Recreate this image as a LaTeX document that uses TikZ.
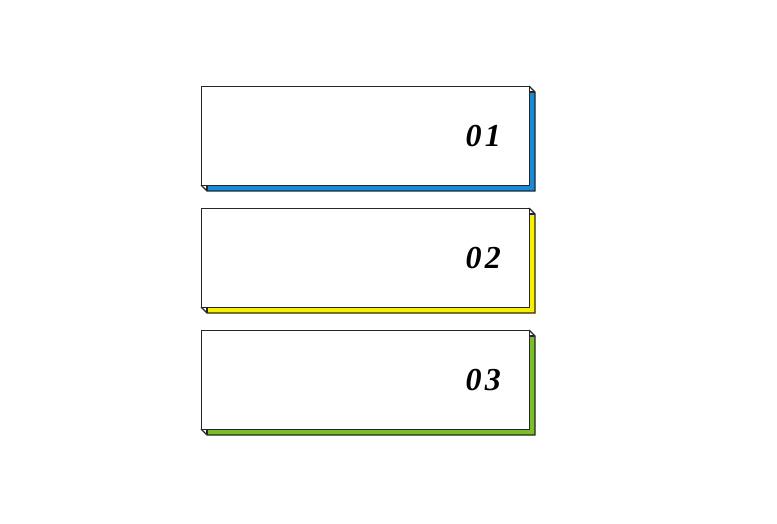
\documentclass[tikz,border=0pt]{standalone}
\usepackage{fontspec}
\setmainfont{Liberation Serif}
\definecolor{cblue}{HTML}{1A8AD4}
\definecolor{cyellow}{HTML}{F7F000}
\definecolor{cgreen}{HTML}{7CBD2E}
\begin{document}
\begin{tikzpicture}[x=1pt,y=-1pt,
  front/.style={draw=black!85,line width=1.3pt,fill=white,minimum width=328pt,minimum height=99pt,inner sep=0pt,anchor=north west},
  side/.style={draw=black!85,line width=1.3pt,line join=miter},
  num/.style={font=\fontsize{32}{32}\selectfont\bfseries\itshape\addfontfeature{LetterSpace=10},text=black}]
\useasboundingbox (0,0) rectangle (777,524);
\fill[white] (0,0) rectangle (777,524);
\foreach \i/\y/\c/\t in {1/86/cblue/01, 2/208/cyellow/02, 3/330/cgreen/03}{
  \fill[\c] (529,\y+6) -- (535,\y+6) -- (535,\y+105) -- (207,\y+105) -- (207,\y+99) -- (529,\y+99) -- cycle;
  \draw[side] (529,\y) -- (535,\y+6) -- (535,\y+105) -- (207,\y+105) -- (201,\y+99);
  \draw[side] (529,\y+6) -- (535,\y+6);
  \draw[side] (207,\y+99) -- (207,\y+105);
  \node[front] (box\i) at (201,\y) {};
  \node[num] (n\i) at ([xshift=-47pt,yshift=0pt]box\i.east) {\t};
}
\end{tikzpicture}
\end{document}
